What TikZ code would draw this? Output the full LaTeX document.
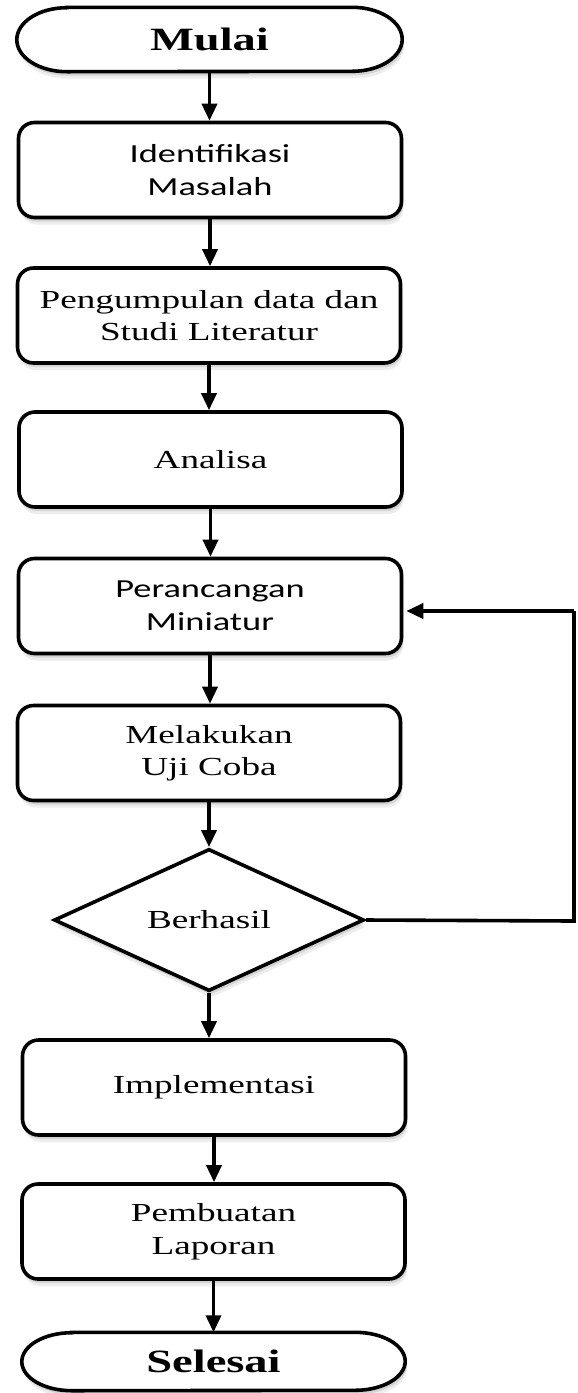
\documentclass[tikz,border=0pt]{standalone}
\usepackage{fontspec}
\setmainfont{Liberation Serif}[FakeStretch=1.43]
\newfontfamily\calfont{Carlito}[FakeStretch=1.4]
\usetikzlibrary{arrows.meta,shapes.geometric,shadows,calc,backgrounds}
\tikzset{
  shade2/.style={
    general shadow={fill=black, opacity=0.07, shadow xshift=2pt, shadow yshift=-7pt},
    general shadow={fill=black, opacity=0.10, shadow xshift=1.5pt, shadow yshift=-4pt}},
  base/.style={draw, line width=3.6pt, fill=white, align=center, inner sep=0pt, shade2},
  procbox/.style={base, rounded corners=16pt, minimum width=383pt, minimum height=95pt,
    font=\fontsize{26}{32.5}\selectfont},
  calbox/.style={procbox, font=\calfont\fontsize{26}{33}\selectfont},
  termtext/.style={inner sep=0pt, minimum width=385pt, minimum height=64pt,
    font=\bfseries\fontsize{32.5}{36}\selectfont},
  termline/.style={draw, line width=3.6pt, fill=white, shade2},
  decision/.style={base, diamond, minimum width=310pt, minimum height=134pt,
    font=\fontsize{26}{32.5}\selectfont},
  arr/.style={line width=3.6pt, -{Triangle[length=17pt,width=15pt]}},
  ln/.style={line width=3.6pt}
}
\newcommand{\termoutline}[3]{% node name, half height, end radius
  \path[termline] ($(#1.north west)+(#3,0)$) -- ($(#1.north east)+(-#3,0)$)
    arc[start angle=90, end angle=-90, x radius=#3 pt, y radius=#2 pt]
    -- ($(#1.south west)+(#3,0)$)
    arc[start angle=270, end angle=90, x radius=#3 pt, y radius=#2 pt] -- cycle;
}
\begin{document}
\begin{tikzpicture}[x=1pt,y=-1pt]
\useasboundingbox (0,0) rectangle (578,1393);
\node[termtext] (mulai) at (209.5,39.5) {Mulai};
\node[termtext, minimum height=58pt, minimum width=383pt] (sel) at (213.5,1361.5) {Selesai};
\begin{scope}[on background layer]
  \fill[white] (0,0) rectangle (578,1393);
  \termoutline{mulai}{32}{50}
  \termoutline{sel}{29}{50}
\end{scope}
\node[calbox] (ident) at (210,170) {Identifikasi\\Masalah};
\node[procbox] (peng) at (209,315.5) {Pengumpulan data dan\\Studi Literatur};
\node[procbox] (anal) at (210.5,459.5) {Analisa};
\node[calbox] (peran) at (210,606) {Perancangan\\Miniatur};
\node[procbox] (mel) at (209,753) {Melakukan\\Uji Coba};
\node[decision] (dia) at (209,920) {Berhasil};
\node[procbox] (impl) at (214,1087.5) {Implementasi};
\node[procbox] (pemb) at (213.5,1231.5) {Pembuatan\\Laporan};
\coordinate (c1) at (574,921);
\coordinate (c2) at (574,611);
\draw[arr] (mulai.south) -- (mulai.south |- ident.north);
\draw[arr] (ident.south) -- (ident.south |- peng.north);
\draw[arr] (peng.south) -- (peng.south |- anal.north);
\draw[arr] (anal.south) -- (anal.south |- peran.north);
\draw[arr] (peran.south) -- (peran.south |- mel.north);
\draw[arr] (mel.south) -- (mel.south |- dia.north);
\draw[arr] (dia.south) -- (dia.south |- impl.north);
\draw[arr] (impl.south) -- (impl.south |- pemb.north);
\draw[arr] (pemb.south) -- (pemb.south |- sel.north);
\draw[ln] (dia.east) -- (c1) -- (c2);
\draw[arr] (c2) -- ($(c2 -| peran.east)+(3,0)$);
\end{tikzpicture}
\end{document}
